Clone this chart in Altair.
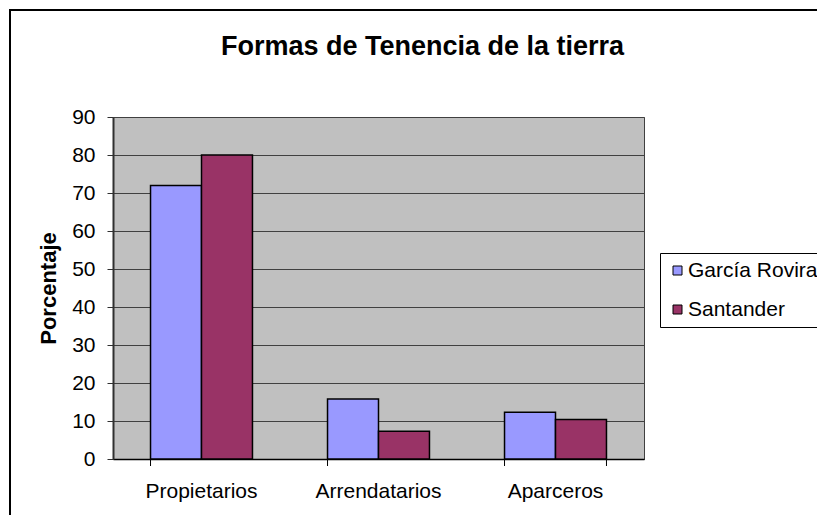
import altair as alt
import pandas as pd

categories = ["Propietarios", "Arrendatarios", "Aparceros"]
series = ["García Rovira", "Santander"]
garcia_rovira = [72, 15.8, 12.3]
santander = [80, 7.3, 10.4]
colors = ["#9999FF", "#993366"]
y_ticks = [0, 10, 20, 30, 40, 50, 60, 70, 80, 90]
title_text = "Formas de Tenencia de la tierra"
y_title = "Porcentaje"

rows = []
for c, a, b in zip(categories, garcia_rovira, santander):
    rows.append({"cat": c, "serie": series[0], "val": a})
    rows.append({"cat": c, "serie": series[1], "val": b})
df = pd.DataFrame(rows)
cat_df = pd.DataFrame({"cat": categories})

FONT = "Liberation Sans"
W, H = 531, 342

xscale = alt.Scale(paddingInner=0.424, paddingOuter=0.212)

bars = alt.Chart(df).mark_bar(stroke="black", strokeWidth=1.5).encode(
    x=alt.X("cat:N", sort=categories, scale=xscale,
            axis=alt.Axis(title=None, labelAngle=0, labelFontSize=21, labelColor="black",
                          ticks=False, tickSize=0, labelPadding=38, labelBaseline="alphabetic",
                          domainColor="black", domainWidth=1.5, grid=False)),
    xOffset=alt.XOffset("serie:N", sort=series, scale=alt.Scale(paddingInner=0, paddingOuter=0)),
    y=alt.Y("val:Q", scale=alt.Scale(domain=[0, 90], nice=False),
            axis=alt.Axis(values=y_ticks, title=y_title, titleFontSize=22, titleFontWeight="bold",
                          titleColor="black", titleX=-58, titleBaseline="alphabetic",
                          labelFontSize=21, labelColor="black", tickSize=6, labelPadding=12,
                          gridColor="#404040", gridWidth=1, domainColor="#303030", domainWidth=2,
                          tickColor="#303030", tickWidth=1)),
    color=alt.Color("serie:N", sort=series, scale=alt.Scale(domain=series, range=colors),
                    legend=alt.Legend(title=None, orient="none", legendX=547, legendY=136,
                                      strokeColor="black", fillColor="white", padding=7,
                                      symbolType="square", symbolSize=81, symbolStrokeColor="black",
                                      symbolStrokeWidth=1, labelFontSize=21, labelColor="black",
                                      rowPadding=17, labelOffset=0, labelLimit=400)),
)

ticks_start = alt.Chart(cat_df).mark_rule(color="black", strokeWidth=1).encode(
    x=alt.X("cat:N", sort=categories, bandPosition=0, scale=xscale),
    y=alt.value(H), y2=alt.value(H + 7),
)
ticks_end = alt.Chart(cat_df).transform_filter(
    alt.datum.cat == categories[-1]
).mark_rule(color="black", strokeWidth=1).encode(
    x=alt.X("cat:N", sort=categories, bandPosition=1, scale=xscale),
    y=alt.value(H), y2=alt.value(H + 7),
)

border = alt.Chart(alt.Data(values=[{"k": 1}])).mark_rect(
    fill="transparent", stroke="black", strokeWidth=2
).encode(
    x=alt.value(-103), x2=alt.value(1000), y=alt.value(-107), y2=alt.value(800)
)

chart = alt.layer(border, bars, ticks_start, ticks_end).properties(
    width=W, height=H,
    title=alt.Title(text=title_text, fontSize=27, fontWeight="bold", font=FONT, color="black",
                    anchor="middle", frame="group", baseline="alphabetic", dx=44, offset=-73),
    autosize=alt.AutoSizeParams(type="none"),
    padding={"left": 105, "top": 109, "right": 173, "bottom": 56},
).configure(
    font=FONT,
).configure_view(
    fill="#C0C0C0", stroke="#404040", strokeWidth=1,
).configure_axis(
    labelFont=FONT, titleFont=FONT,
).configure_legend(
    labelFont=FONT,
)

chart.save("out.html", embed_options={"renderer": "svg", "actions": False})
